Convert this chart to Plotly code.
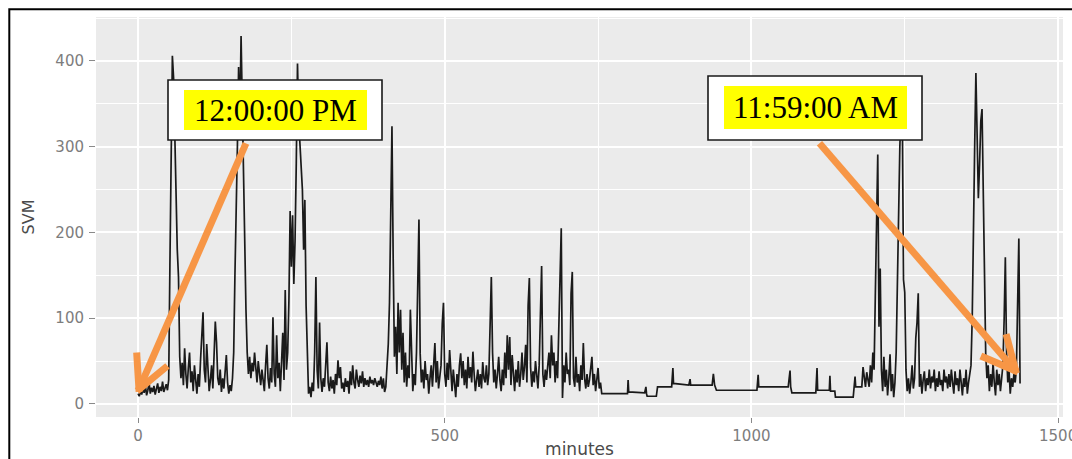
import math
import plotly.graph_objects as go

# ---------------- data ----------------
# active first part of the day, one reading every 2 minutes (0 .. 756)
morning_minutes = list(range(0, 758, 2))
morning_svm = [
    12, 9, 15, 11, 18, 13, 22, 10, 16, 25,
    12, 19, 14, 21, 11, 17, 24, 13, 20, 15,
    26, 14, 19, 23, 16, 28, 162, 300, 406, 380,
    308, 234, 180, 148, 55, 30, 48, 22, 65, 35,
    18, 42, 60, 25, 38, 15, 45, 28, 12, 35,
    20, 52, 90, 107, 40, 25, 70, 32, 15, 28,
    45, 18, 60, 96, 72, 30, 22, 40, 14, 30,
    18, 35, 57, 25, 12, 22, 15, 30, 60, 150,
    215, 300, 393, 330, 429, 350, 260, 160, 110, 60,
    35, 55, 30, 48, 38, 60, 42, 25, 50, 35,
    22, 40, 28, 15, 45, 69, 30, 18, 42, 25,
    101, 35, 20, 80, 30, 48, 15, 55, 83, 28,
    133, 40, 60, 120, 225, 160, 220, 140, 190, 280,
    397, 330, 304, 290, 250, 180, 238, 115, 60, 12,
    20, 8, 25, 15, 60, 148, 40, 18, 95, 30,
    14, 30, 20, 50, 72, 25, 15, 32, 18, 28,
    12, 35, 22, 51, 30, 43, 18, 25, 14, 30,
    20, 27, 12, 38, 22, 45, 25, 18, 40, 28,
    20, 33, 24, 38, 20, 30, 22, 28, 20, 32,
    24, 28, 22, 30, 25, 20, 27, 22, 32, 18,
    30, 14, 20, 40, 70, 118, 224, 324, 170, 55,
    90, 35, 118, 60, 110, 40, 83, 25, 60, 20,
    45, 30, 110, 50, 15, 35, 22, 60, 137, 215,
    59, 25, 40, 18, 50, 28, 35, 12, 30, 45,
    20, 40, 71, 25, 50, 18, 30, 45, 94, 118,
    35, 20, 48, 28, 63, 30, 15, 40, 25, 8,
    35, 20, 45, 59, 30, 50, 22, 40, 18, 55,
    30, 43, 25, 61, 35, 15, 28, 40, 20, 35,
    18, 49, 30, 25, 45, 22, 35, 98, 148, 60,
    25, 40, 18, 35, 55, 28, 15, 40, 22, 60,
    30, 80, 40, 78, 22, 57, 30, 15, 40, 25,
    50, 20, 35, 60, 28, 43, 69, 25, 115, 147,
    43, 20, 38, 25, 50, 30, 18, 45, 104, 161,
    35, 20, 40, 28, 45, 60, 30, 80, 45, 60,
    25, 50, 30, 90, 156, 205, 7, 45, 25, 60,
    35, 40, 22, 129, 154, 30, 20, 55, 25, 35,
    15, 45, 28, 71, 30, 18, 35, 20, 28, 40,
    55, 22, 35, 15, 30, 42, 18, 25, 12,
]

# quiet stretch (sparse readings where the level is flat)
flat_minutes = [758, 798, 799, 800, 826, 828, 829, 830, 845, 847,
                870, 872, 873, 898, 900, 901, 936, 938, 940, 943,
                1002, 1009, 1011, 1012, 1060, 1063, 1064, 1066, 1105, 1107,
                1108, 1127, 1128, 1129, 1136, 1137, 1166, 1169, 1170, 1180,
                1182, 1184, 1186, 1188]
flat_svm = [12, 12, 28, 14, 13, 20, 12, 9, 9, 20,
            20, 42, 24, 22, 29, 22, 22, 35, 22, 16,
            16, 16, 34, 20, 20, 39, 20, 13, 13, 42,
            16, 16, 33, 15, 15, 8, 8, 32, 20, 20,
            43, 28, 20, 37]

# active end of the day, one reading every 2 minutes (1190 .. 1438)
evening_minutes = list(range(1190, 1440, 2))
evening_svm = [
    25, 20, 45, 25, 60, 40, 125, 200, 291, 90,
    158, 40, 15, 55, 20, 40, 10, 30, 58, 15,
    35, 8, 25, 60, 150, 247, 300, 345, 340, 145,
    130, 40, 15, 30, 12, 25, 45, 18, 30, 77,
    95, 129, 20, 35, 12, 28, 38, 15, 30, 22,
    40, 18, 32, 25, 40, 15, 30, 20, 38, 22,
    28, 15, 40, 25, 32, 18, 35, 20, 40, 25,
    12, 38, 22, 30, 15, 40, 20, 10, 30, 20,
    40, 12, 25, 35, 45, 100, 232, 300, 386, 300,
    240, 280, 330, 344, 240, 162, 59, 30, 45, 15,
    35, 20, 48, 25, 10, 40, 22, 35, 15, 30,
    45, 98, 171, 60, 25, 40, 12, 30, 20, 35,
    25, 40, 148, 193, 24,
]

minutes = morning_minutes + flat_minutes + evening_minutes
svm = morning_svm + flat_svm + evening_svm

x_ticks = [0, 500, 1000, 1500]
y_ticks = [0, 100, 200, 300, 400]
label_start = "12:00:00 PM"
label_end = "11:59:00 AM"

# ---------------- layout geometry ----------------
W, H = 1072, 459
ML, MR, MT, MB = 96, 9, 17, 42
PW, PH = W - ML - MR, H - MT - MB
XR = [-68.5, 1508.0]
YR = [-15.2, 451.3]


def d2px(x, y):
    px = ML + (x - XR[0]) / (XR[1] - XR[0]) * PW
    py = MT + (YR[1] - y) / (YR[1] - YR[0]) * PH
    return px, py


def px2paper(px, py):
    return (px - ML) / PW, (H - MB - py) / PH


fig = go.Figure()
fig.add_trace(go.Scatter(
    x=minutes, y=svm, mode="lines",
    line=dict(color="#1a1a1a", width=1.7),
    hoverinfo="skip", showlegend=False,
))

shapes = []
annotations = []

# outer frame of the picture
fx0, fy0 = px2paper(9.3, 9.3)
fx1, fy1 = px2paper(1100, 490)
shapes.append(dict(type="rect", xref="paper", yref="paper",
                   x0=fx0, y0=fy1, x1=fx1, y1=fy0,
                   line=dict(color="black", width=2), layer="above"))

ORANGE = "#F79646"


def seg(p0, p1, width):
    a = px2paper(*p0)
    b = px2paper(*p1)
    return dict(type="line", xref="paper", yref="paper",
                x0=a[0], y0=a[1], x1=b[0], y1=b[1],
                line=dict(color=ORANGE, width=width), layer="above")


def add_callout(box_px, hl_px, text, tail_data, tip_data, half_angle, arm_len):
    # white box with black border
    bx0, by0 = px2paper(box_px[0], box_px[1])
    bx1, by1 = px2paper(box_px[2], box_px[3])
    shapes.append(dict(type="rect", xref="paper", yref="paper",
                       x0=bx0, x1=bx1, y0=by1, y1=by0,
                       fillcolor="white", line=dict(color="#1a1a1a", width=1.6),
                       layer="above"))
    # yellow highlighted text
    cx, cy = px2paper((hl_px[0] + hl_px[2]) / 2, (hl_px[1] + hl_px[3]) / 2)
    annotations.append(dict(
        text=text, xref="paper", yref="paper", x=cx, y=cy,
        xanchor="center", yanchor="middle", showarrow=False,
        width=hl_px[2] - hl_px[0], height=hl_px[3] - hl_px[1],
        bgcolor="#FFFF00", borderpad=0, borderwidth=0,
        font=dict(family="Liberation Serif", size=31, color="black"),
    ))
    # orange arrow (shaft + open chevron head)
    tx, ty = d2px(*tail_data)
    hx, hy = d2px(*tip_data)
    ux, uy = tx - hx, ty - hy
    n = math.hypot(ux, uy)
    ux, uy = ux / n, uy / n
    shapes.append(seg((tx, ty), (hx, hy), 7))
    for s in (-1, 1):
        a = math.radians(half_angle) * s
        vx = ux * math.cos(a) - uy * math.sin(a)
        vy = ux * math.sin(a) + uy * math.cos(a)
        sx, sy = hx - vx * 2.5, hy - vy * 2.5
        shapes.append(seg((sx, sy), (hx + vx * arm_len, hy + vy * arm_len), 7))


add_callout((168, 80, 382, 140), (184, 90, 367, 130), label_start,
            (176, 304), (1.5, 17), 27, 37)
add_callout((708, 76, 922, 140), (724, 86, 907, 129), label_end,
            (1111, 304), (1431, 38.5), 26, 38)

axis_common = dict(
    showgrid=True, gridcolor="white", gridwidth=1.8,
    zeroline=False, showline=False, automargin=False,
    ticks="outside", tickcolor="#8a8a8a", tickwidth=1.2,
    ticklabeloverflow="allow",
    tickfont=dict(family="DejaVu Sans", size=15, color="#7d7d7d"),
)

fig.update_layout(
    width=W, height=H,
    margin=dict(l=ML, r=MR, t=MT, b=MB, pad=0, autoexpand=False),
    paper_bgcolor="white", plot_bgcolor="#EBEBEB",
    xaxis=dict(range=XR, tickmode="array", tickvals=x_ticks,
               ticktext=[str(v) for v in x_ticks], ticklen=5,
               ticklabelstandoff=0,
               minor=dict(tickmode="linear", tick0=0, dtick=250, showgrid=True,
                          gridcolor="white", gridwidth=1, ticks=""),
               title=dict(text="minutes", standoff=8,
                          font=dict(family="DejaVu Sans", size=17, color="#4a4a4a")),
               **axis_common),
    yaxis=dict(range=YR, tickmode="array", tickvals=y_ticks,
               ticktext=[str(v) for v in y_ticks], ticklen=6,
               ticklabelstandoff=2,
               minor=dict(tickmode="linear", tick0=0, dtick=50, showgrid=True,
                          gridcolor="white", gridwidth=1, ticks=""),
               title=dict(text="SVM", standoff=16,
                          font=dict(family="DejaVu Sans", size=16, color="#4a4a4a")),
               **axis_common),
    shapes=shapes,
    annotations=annotations,
)

fig.write_html("out.html", config={"displayModeBar": False},
               post_script="document.body.style.margin='0';document.body.style.overflow='hidden';")
